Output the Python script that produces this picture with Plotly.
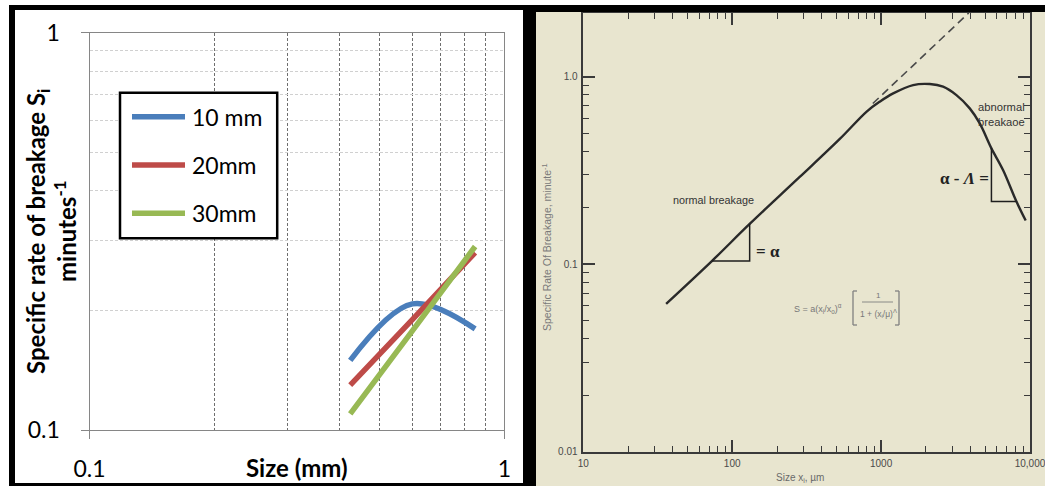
import plotly.graph_objects as go

W, H = 1045, 486


def fx(px):
    return px / W


def fy(py):
    return 1 - py / H


# ---- left chart: specific rate of breakage for three feed sizes ----
feed_sizes = ["10 mm", "20mm", "30mm"]
size_mm = [0.425, 0.6, 0.85]
rate_10mm = [0.150, 0.208, 0.180]
rate_20mm = [0.130, 0.190, 0.280]
rate_30mm = [0.110, 0.178, 0.290]
series_colors = ["#4A7EBB", "#BE4B48", "#98B954"]
left_ticks = [0.1, 1]
left_ticktext = ["0.1", "1"]
left_minor = [0.2, 0.3, 0.4, 0.5, 0.6, 0.7, 0.8, 0.9]

# ---- right chart: normal / abnormal breakage curve ----
size_um = [36, 73, 131, 284, 528, 800, 979, 1205, 1641, 2123, 2608, 3206,
           3939, 4597, 5508, 6590, 8110, 9356]
rate_min = [0.0615, 0.104, 0.164, 0.292, 0.466, 0.652, 0.736, 0.815, 0.903,
            0.914, 0.885, 0.798, 0.678, 0.564, 0.415, 0.318, 0.216, 0.171]
guide_um = [880, 3880]
guide_rate = [0.72, 2.19]
right_xticks = [10, 100, 1000, 10000]
right_xticktext = ["10", "100", "1000", "10,000"]
right_yticks = [0.01, 0.1, 1]
right_yticktext = ["0.01", "0.1", "1.0"]
right_xminor = [m * d for d in (10, 100, 1000) for m in range(2, 10)]
right_yminor = [m * d for d in (0.01, 0.1) for m in range(2, 10)]

# slope triangles hang off points of the curve
normal_tri = (1, 2)
abnormal_tri = (14, 16)

LEFT_FONT = "Lato, Carlito, Calibri, sans-serif"
SCAN_FONT = "Liberation Sans, Arial, sans-serif"
SERIF_FONT = "Liberation Serif, Times New Roman, serif"

fig = go.Figure()

for name, vals, col in zip(feed_sizes, [rate_10mm, rate_20mm, rate_30mm], series_colors):
    fig.add_trace(go.Scatter(
        x=size_mm, y=vals, mode="lines", name=name,
        line=dict(color=col, width=5.5, shape="spline", smoothing=1.0),
        xaxis="x", yaxis="y", showlegend=False, hoverinfo="skip"))

fig.add_trace(go.Scatter(
    x=guide_um, y=guide_rate, mode="lines",
    line=dict(color="#4a4a4a", width=1.6, dash="8px,5px"),
    xaxis="x2", yaxis="y2", showlegend=False, hoverinfo="skip"))

fig.add_trace(go.Scatter(
    x=size_um, y=rate_min, mode="lines",
    line=dict(color="#2a2a2a", width=2.4, shape="spline", smoothing=1.0),
    xaxis="x2", yaxis="y2", showlegend=False, hoverinfo="skip"))

i, j = normal_tri
fig.add_trace(go.Scatter(
    x=[size_um[i], size_um[j], size_um[j]],
    y=[rate_min[i], rate_min[i], rate_min[j]],
    mode="lines", line=dict(color="#1e1e1e", width=1.5),
    xaxis="x2", yaxis="y2", showlegend=False, hoverinfo="skip"))

i, j = abnormal_tri
fig.add_trace(go.Scatter(
    x=[size_um[i], size_um[i], size_um[j]],
    y=[rate_min[i], rate_min[j], rate_min[j]],
    mode="lines", line=dict(color="#1e1e1e", width=1.5),
    xaxis="x2", yaxis="y2", showlegend=False, hoverinfo="skip"))

left_axis_common = dict(
    type="log", range=[-1, 0], showline=True, linecolor="#868686", linewidth=1,
    mirror=True, ticks="outside", ticklen=8, tickcolor="#868686",
    showgrid=False, zeroline=False, automargin=False,
    tickfont=dict(family=LEFT_FONT, size=23, color="black"),
)

right_axis_common = dict(
    type="log", showline=True, linecolor="#3a3a3a", linewidth=1.5,
    mirror="ticks", ticks="inside", ticklen=12, tickwidth=1.5, tickcolor="#3a3a3a",
    showgrid=False, zeroline=False, automargin=False, ticklabeloverflow="allow",
    tickfont=dict(family=SCAN_FONT, size=10, color="#4a4a4a"),
)

fig.update_layout(
    width=W, height=H, margin=dict(l=0, r=0, t=0, b=0, autoexpand=False),
    paper_bgcolor="white", plot_bgcolor="rgba(0,0,0,0)",
    xaxis=dict(
        **left_axis_common, domain=[fx(89.5), fx(504.4)], anchor="y",
        tickvals=left_ticks, ticktext=left_ticktext, ticklabelstandoff=10,
        minor=dict(tickvals=left_minor, ticks="", showgrid=True,
                   gridcolor="#6e6e6e", griddash="3px,2px", gridwidth=1),
    ),
    yaxis=dict(
        **left_axis_common, domain=[fy(430.4), fy(32.7)], anchor="x",
        tickvals=left_ticks, ticktext=left_ticktext, ticklabelstandoff=16,
        minor=dict(tickvals=left_minor, ticks="", showgrid=True,
                   gridcolor="#d0d0d0", griddash="3px,2px", gridwidth=1),
    ),
    xaxis2=dict(
        **right_axis_common, domain=[fx(583.3), fx(1030)], anchor="y2",
        range=[1, 4], tickvals=right_xticks, ticktext=right_xticktext,
        ticklabelstandoff=2,
        minor=dict(tickvals=right_xminor, ticks="inside", ticklen=6,
                   tickwidth=1.3, tickcolor="#3a3a3a"),
    ),
    yaxis2=dict(
        **right_axis_common, domain=[fy(451.7), fy(13)], anchor="x2",
        range=[-2, 0.34], tickvals=right_yticks, ticktext=right_yticktext,
        ticklabelstandoff=2,
        minor=dict(tickvals=right_yminor, ticks="inside", ticklen=6,
                   tickwidth=1.3, tickcolor="#3a3a3a"),
    ),
)

shapes = []


def rect(x0, y0, x1, y1, fill, layer="above", line_color=None, line_width=0):
    shapes.append(dict(
        type="rect", xref="paper", yref="paper",
        x0=fx(x0), x1=fx(x1), y0=fy(y1), y1=fy(y0),
        fillcolor=fill, layer=layer,
        line=dict(color=line_color or fill, width=line_width)))


def seg(x0, y0, x1, y1, color, width, layer="above"):
    shapes.append(dict(
        type="line", xref="paper", yref="paper",
        x0=fx(x0), x1=fx(x1), y0=fy(y0), y1=fy(y1),
        layer=layer, line=dict(color=color, width=width)))


# scanned page background
rect(536, 12, 1045, 486, "#e8e5cf", layer="below")

# black frames
rect(9, 5, 1045, 10, "black")
rect(525, 5, 1045, 12, "black")
rect(9, 5, 15, 486, "black")
rect(523, 5, 536, 486, "black")
rect(9, 483, 523, 486, "black")

# legend box for the left chart
rect(120, 92.7, 277.2, 238.3, "white", line_color="black", line_width=2.5)
legend_rows = [116.7, 165, 213.3]
for row, col in zip(legend_rows, series_colors):
    seg(132, row, 185, row, col, 5.5)

# formula brackets and fraction bar
bracket_col = "#808080"
seg(853, 291, 853, 325, bracket_col, 1.3)
seg(853, 291, 857, 291, bracket_col, 1.3)
seg(853, 325, 857, 325, bracket_col, 1.3)
seg(899, 291, 899, 325, bracket_col, 1.3)
seg(895, 291, 899, 291, bracket_col, 1.3)
seg(895, 325, 899, 325, bracket_col, 1.3)
seg(862, 302, 893, 302, bracket_col, 0.9)

fig.update_layout(shapes=shapes)

ann = []


def text(x, y, s, family, size, color, angle=0, xanchor="center", yanchor="middle"):
    ann.append(dict(
        x=fx(x), y=fy(y), xref="paper", yref="paper", text=s, showarrow=False,
        textangle=angle, xanchor=xanchor, yanchor=yanchor,
        font=dict(family=family, size=size, color=color)))


# left chart titles and legend labels
text(51, 232, "<b>Specific rate of breakage S<sub>i</sub></b><br><b>minutes<sup>-1</sup></b>",
     LEFT_FONT, 24, "black", angle=-90)
text(297, 467, "<b>Size (mm)</b>", LEFT_FONT, 24, "black")
for row, name in zip(legend_rows, feed_sizes):
    text(190, row, name, LEFT_FONT, 23, "black", xanchor="left")

# right chart titles and notes
text(547, 247, "Specific Rate Of Breakage, minute<sup>-1</sup>", SCAN_FONT, 10.5, "#7a7a7a", angle=-90)
text(800, 478, "Size x<sub>i</sub>, µm", SCAN_FONT, 10, "#6a6a6a")
text(713, 200, "normal breakage", SCAN_FONT, 10.8, "#333333")
text(768, 251, "<b>= α</b>", SERIF_FONT, 17, "#222222")
text(1027, 115, "abnormal<br>breakaoe", SCAN_FONT, 11.2, "#333333", xanchor="right")
text(964, 179, "<b>α - <i>Λ</i> =</b>", SERIF_FONT, 17, "#222222")
text(792, 308, "S = a(x<sub>i</sub>/x<sub>o</sub>)<sup>α</sup>", SCAN_FONT, 9, "#777777", xanchor="left")
text(878, 295, "1", SCAN_FONT, 8, "#777777")
text(878, 313, "1 + (x<sub>i</sub>/μ)<sup>Λ</sup>", SCAN_FONT, 8.5, "#777777")

fig.update_layout(annotations=ann)

fig.write_html("out.html")
